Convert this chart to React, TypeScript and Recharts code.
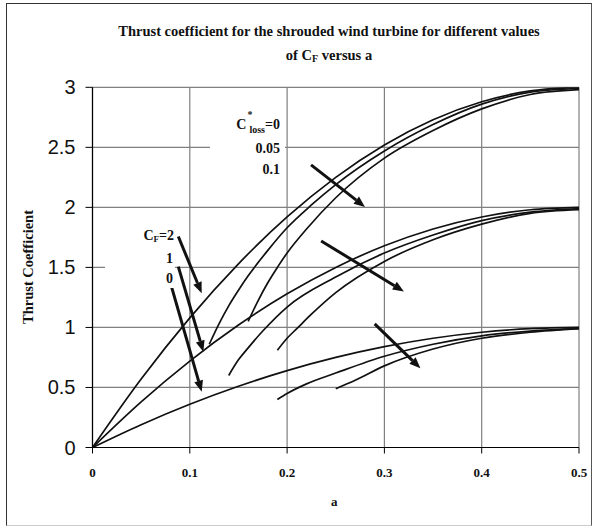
import React from 'react';
import { LineChart, Line, XAxis, YAxis, CartesianGrid, ReferenceLine } from 'recharts';

// ---- tick labels ----
const X_TICKS = [0, 0.1, 0.2, 0.3, 0.4, 0.5];
const Y_TICKS = [0, 0.5, 1, 1.5, 2, 2.5, 3];

// ---- base curves (C*loss = 0), [a, CT] ----
const CF0_LOSS0: [number, number][] = [[0, 0], [0.05, 0.19], [0.1, 0.36], [0.15, 0.51], [0.2, 0.64], [0.25, 0.75], [0.3, 0.84], [0.35, 0.91], [0.4, 0.96], [0.45, 0.99], [0.5, 1.0]];
const CF1_LOSS0: [number, number][] = [[0, 0], [0.05, 0.38], [0.1, 0.72], [0.15, 1.02], [0.2, 1.28], [0.25, 1.5], [0.3, 1.68], [0.35, 1.82], [0.4, 1.92], [0.45, 1.98], [0.5, 2.0]];
const CF2_LOSS0: [number, number][] = [[0, 0], [0.05, 0.57], [0.1, 1.08], [0.15, 1.53], [0.2, 1.92], [0.25, 2.25], [0.3, 2.52], [0.35, 2.73], [0.4, 2.88], [0.45, 2.97], [0.5, 3.0]];

// ---- C*loss = 0.05 ----
const CF0_LOSS05: [number, number][] = [[0.19, 0.4], [0.2, 0.45], [0.22, 0.53], [0.25, 0.62], [0.3, 0.76], [0.35, 0.86], [0.4, 0.93], [0.45, 0.97], [0.5, 0.99]];
const CF1_LOSS05: [number, number][] = [[0.14, 0.6], [0.15, 0.73], [0.16, 0.83], [0.175, 0.97], [0.2, 1.17], [0.25, 1.42], [0.3, 1.62], [0.35, 1.77], [0.4, 1.89], [0.45, 1.96], [0.5, 1.99]];
const CF2_LOSS05: [number, number][] = [[0.12, 0.86], [0.13, 1.03], [0.14, 1.18], [0.15, 1.31], [0.16, 1.43], [0.18, 1.64], [0.2, 1.83], [0.225, 2.02], [0.25, 2.19], [0.3, 2.47], [0.35, 2.69], [0.4, 2.86], [0.45, 2.96], [0.5, 2.99]];

// ---- C*loss = 0.1 ----
const CF0_LOSS10: [number, number][] = [[0.25, 0.49], [0.27, 0.56], [0.3, 0.68], [0.35, 0.82], [0.4, 0.91], [0.45, 0.96], [0.5, 0.99]];
const CF1_LOSS10: [number, number][] = [[0.19, 0.81], [0.2, 0.91], [0.21, 0.99], [0.225, 1.11], [0.25, 1.29], [0.3, 1.55], [0.35, 1.73], [0.4, 1.86], [0.45, 1.95], [0.5, 1.98]];
const CF2_LOSS10: [number, number][] = [[0.16, 1.05], [0.17, 1.22], [0.18, 1.37], [0.19, 1.5], [0.2, 1.62], [0.22, 1.82], [0.25, 2.08], [0.3, 2.41], [0.35, 2.64], [0.4, 2.82], [0.45, 2.94], [0.5, 2.98]];

// ---- arrows [a1, v1, a2, v2] ----
const ARROWS: [number, number, number, number][] = [
  [0.0882, 1.757, 0.1122, 1.285],
  [0.0882, 1.507, 0.1139, 0.798],
  [0.0797, 1.382, 0.1122, 0.465],
  [0.2246, 2.354, 0.28, 2.004],
  [0.235, 1.72, 0.32, 1.3],
  [0.29, 1.03, 0.337, 0.66],
];

const SERIES = [CF0_LOSS0, CF1_LOSS0, CF2_LOSS0, CF0_LOSS05, CF1_LOSS05, CF2_LOSS05, CF0_LOSS10, CF1_LOSS10, CF2_LOSS10];

const toRows = (pts: [number, number][]) => pts.map(([a, v]) => ({ a, v }));

const SERIF = '"Liberation Serif", "Times New Roman", serif';
const SANS = '"Liberation Sans", Arial, sans-serif';

const ArrowShape = (props: any) => {
  const { x1, y1, x2, y2 } = props;
  const dx = x2 - x1;
  const dy = y2 - y1;
  const len = Math.hypot(dx, dy) || 1;
  const ux = dx / len;
  const uy = dy / len;
  const hl = 11;
  const hw = 4.5;
  const bx = x2 - ux * hl;
  const by = y2 - uy * hl;
  return (
    <g>
      <line x1={x1} y1={y1} x2={bx} y2={by} stroke="#111" strokeWidth={3} />
      <polygon points={`${x2},${y2} ${bx - uy * hw},${by + ux * hw} ${bx + uy * hw},${by - ux * hw}`} fill="#111" />
    </g>
  );
};

const YTick = (props: any) => {
  const { x, y, payload } = props;
  return (
    <text x={x} y={y} dy={7} textAnchor="end" fontFamily={SANS} fontSize={20} fill="#111">
      {payload.value}
    </text>
  );
};

const XTick = (props: any) => {
  const { x, y, payload } = props;
  return (
    <text x={x} y={y} dy={23} textAnchor="middle" fontFamily={SERIF} fontWeight="bold" fontSize={13} fill="#111">
      {payload.value}
    </text>
  );
};

const abs = (style: React.CSSProperties): React.CSSProperties => ({ position: 'absolute', ...style });

export default function App() {
  return (
    <div style={{ position: 'absolute', left: 0, top: 0, width: 592, height: 528, background: '#fff' }}>
      <div style={abs({ left: 6, top: 3, width: 584, height: 521, borderTop: '1px solid #333', borderLeft: '1px solid #333', borderRight: '1px solid #555', borderBottom: '1px solid #ccc' })} />
      <LineChart width={592} height={528} margin={{ top: 87.3, right: 13, bottom: 40.5, left: 32.5 }}>
        <CartesianGrid stroke="#808080" strokeWidth={1.2} />
        <XAxis
          type="number"
          dataKey="a"
          domain={[0, 0.5]}
          ticks={X_TICKS}
          interval={0}
          height={40}
          tickSize={6}
          tickMargin={0}
          axisLine={{ stroke: '#000', strokeWidth: 1.2 }}
          tickLine={{ stroke: '#000' }}
          tick={XTick}
          allowDataOverflow
        />
        <YAxis
          type="number"
          domain={[0, 3]}
          ticks={Y_TICKS}
          interval={0}
          width={60}
          tickSize={7}
          tickMargin={10}
          axisLine={{ stroke: '#000', strokeWidth: 1.2 }}
          tickLine={{ stroke: '#000' }}
          tick={YTick}
          allowDataOverflow
        />
        {SERIES.map((s, i) => (
          <Line
            key={i}
            data={toRows(s)}
            dataKey="v"
            type="monotone"
            stroke="#111"
            strokeWidth={1.7}
            dot={false}
            activeDot={false}
            isAnimationActive={false}
          />
        ))}
        {ARROWS.map(([a1, v1, a2, v2], i) => (
          <ReferenceLine
            key={'ar' + i}
            segment={[{ x: a1, y: v1 }, { x: a2, y: v2 }]}
            shape={<ArrowShape />}
            ifOverflow="visible"
          />
        ))}
      </LineChart>

      {/* title */}
      <div style={abs({ left: 0, width: 658, top: 19, textAlign: 'center', fontFamily: SERIF, fontWeight: 'bold', fontSize: 14.5, color: '#111', lineHeight: '24px', whiteSpace: 'nowrap' })}>
        Thrust coefficient for the shrouded wind turbine for different values
        <br />
        of C<sub style={{ fontSize: 10, verticalAlign: '-2px' }}>F</sub> versus a
      </div>

      {/* axis labels */}
      <div style={abs({ left: 331, top: 494, fontFamily: SERIF, fontWeight: 'bold', fontSize: 13, color: '#111' })}>a</div>
      <div style={abs({ left: 28, top: 267, transform: 'translate(-50%, -50%) rotate(-90deg)', fontFamily: SERIF, fontWeight: 'bold', fontSize: 14.5, color: '#111', whiteSpace: 'nowrap' })}>
        Thrust Coefficient
      </div>

      {/* CF labels box */}
      <div style={abs({ left: 105, top: 226, width: 70, height: 62, background: '#fff' })}>
        <div style={abs({ right: 1, top: 2, fontFamily: SERIF, fontWeight: 'bold', fontSize: 14, color: '#111', whiteSpace: 'nowrap' })}>
          C<sub style={{ fontSize: 9, verticalAlign: '-2px' }}>F</sub>=2
        </div>
        <div style={abs({ left: 61, top: 25, fontFamily: SERIF, fontWeight: 'bold', fontSize: 14, color: '#111' })}>1</div>
        <div style={abs({ left: 61, top: 45, fontFamily: SERIF, fontWeight: 'bold', fontSize: 14, color: '#111' })}>0</div>
      </div>

      {/* C*loss labels box */}
      <div style={abs({ left: 210, top: 112, width: 75, height: 68, background: '#fff' })}>
        <div style={abs({ right: 5, top: 5, fontFamily: SERIF, fontWeight: 'bold', fontSize: 14, color: '#111', whiteSpace: 'nowrap' })}>
          C<span style={{ position: 'relative' }}><span style={{ position: 'absolute', left: 1, top: -8, fontSize: 10 }}>*</span><span style={{ fontSize: 10, position: 'relative', top: 4, marginLeft: 3 }}>loss</span></span>=0
        </div>
        <div style={abs({ right: 5, top: 29, fontFamily: SERIF, fontWeight: 'bold', fontSize: 14, color: '#111' })}>0.05</div>
        <div style={abs({ right: 5, top: 50, fontFamily: SERIF, fontWeight: 'bold', fontSize: 14, color: '#111' })}>0.1</div>
      </div>
    </div>
  );
}
